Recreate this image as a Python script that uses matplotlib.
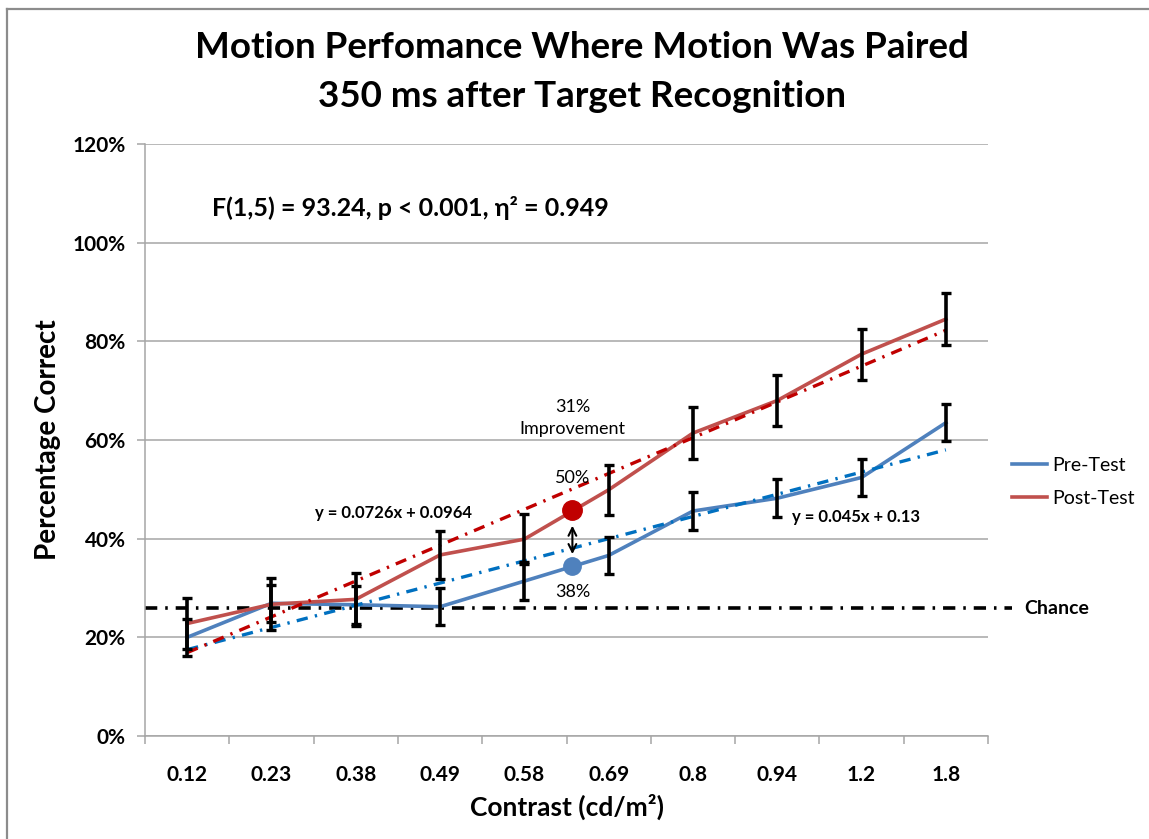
import matplotlib
matplotlib.use("Agg")
import matplotlib.pyplot as plt
from matplotlib.lines import Line2D
import numpy as np

plt.rcParams['font.family'] = ['Lato', 'DejaVu Sans']

# --- data ---
contrast = ["0.12", "0.23", "0.38", "0.49", "0.58", "0.69", "0.8", "0.94", "1.2", "1.8"]
pre_test = [0.200, 0.269, 0.266, 0.262, 0.314, 0.366, 0.456, 0.482, 0.524, 0.635]
pre_err = [0.038, 0.038, 0.038, 0.038, 0.038, 0.038, 0.038, 0.038, 0.037, 0.038]
post_test = [0.228, 0.267, 0.277, 0.367, 0.399, 0.499, 0.614, 0.680, 0.774, 0.845]
post_err = [0.052, 0.053, 0.054, 0.049, 0.051, 0.051, 0.053, 0.052, 0.052, 0.052]

# linear trendlines (equations printed on the chart)
pre_slope, pre_icpt = 0.045, 0.13
post_slope, post_icpt = 0.0726, 0.0964

chance = 0.259
highlight_x = 5.57          # position between 0.58 and 0.69
highlight_pre = 0.345
highlight_post = 0.458

x = np.arange(1, len(contrast) + 1)
dashdot = (0, (3.4, 2.2, 0.7, 2.2))

fig = plt.figure(figsize=(11.49, 8.39), dpi=100)
ax = fig.add_axes([145 / 1149, 1 - 736 / 839, 843 / 1149, 592 / 839])

# gridlines and axes
ax.set_ylim(0, 1.2)
ax.set_xlim(0.5, len(contrast) + 0.5)
ax.set_yticks(np.arange(0, 1.21, 0.2))
ax.set_yticklabels([f"{int(round(v * 100))}%" for v in np.arange(0, 1.21, 0.2)])
ax.yaxis.grid(True, color="#A6A6A6", linewidth=1.1)
ax.set_axisbelow(True)
for s in ["top", "right"]:
    ax.spines[s].set_visible(False)
for s in ["left", "bottom"]:
    ax.spines[s].set_color("#A6A6A6")
    ax.spines[s].set_linewidth(1.1)

ax.set_xticks(x)
ax.set_xticklabels(contrast)
ax.set_xticks(np.arange(0.5, len(contrast) + 1), minor=True)
ax.tick_params(axis="x", which="major", length=0, pad=21, labelsize=15)
ax.tick_params(axis="x", which="minor", length=6, color="#A6A6A6", width=1.1)
ax.tick_params(axis="y", length=6, color="#A6A6A6", width=1.1, pad=8, labelsize=15)
for lbl in ax.get_xticklabels() + ax.get_yticklabels():
    lbl.set_fontweight("bold")

# chance line (runs past the plot area to its label)
ax.plot([0.5, 10.78], [chance, chance], color="black", lw=2.6,
        linestyle=dashdot, clip_on=False, zorder=2)
ax.text(10.93, chance, "Chance", fontsize=14, fontweight="bold",
        va="center", ha="left")

# series
ax.plot(x, pre_test, color="#4F81BD", lw=2.6, zorder=3)
ax.plot(x, post_test, color="#C0504D", lw=2.6, zorder=3)

# trendlines
tx = np.array([x[0], x[-1]])
ax.plot(tx, pre_slope * tx + pre_icpt, color="#0070C0", lw=2.4,
        linestyle=dashdot, zorder=3)
ax.plot(tx, post_slope * tx + post_icpt, color="#C00000", lw=2.4,
        linestyle=dashdot, zorder=3)

# error bars
ax.errorbar(x, pre_test, yerr=pre_err, fmt="none", ecolor="black",
            elinewidth=2.6, capsize=3.8, capthick=2.4, zorder=4)
ax.errorbar(x, post_test, yerr=post_err, fmt="none", ecolor="black",
            elinewidth=2.6, capsize=3.8, capthick=2.4, zorder=4)

# highlighted points and arrow
ax.plot(highlight_x, highlight_post, "o", color="#C00000", ms=14, zorder=5)
ax.plot(highlight_x, highlight_pre, "o", color="#4F81BD", ms=12.5, zorder=5)
ax.annotate("", xy=(highlight_x, 0.363), xytext=(highlight_x, 0.432),
            arrowprops=dict(arrowstyle="<->", color="black", lw=1.5,
                            mutation_scale=14), zorder=5)

ax.text(highlight_x, 0.645, "31%\nImprovement", ha="center", va="center",
        fontsize=13, linespacing=1.45)
ax.text(highlight_x, 0.523, "50%", ha="center", va="center", fontsize=13)
ax.text(highlight_x, 0.292, "38%", ha="center", va="center", fontsize=13)

ax.text(3.45, 0.452, f"y = {post_slope}x + {post_icpt}", ha="center",
        va="center", fontsize=12, fontweight="bold")
ax.text(8.93, 0.444, f"y = {pre_slope}x + {pre_icpt}", ha="center",
        va="center", fontsize=12, fontweight="bold")

ax.text(0.08, 0.892, "F(1,5) = 93.24, p < 0.001, \u03b7\u00b2 = 0.949",
        transform=ax.transAxes, ha="left", va="center", fontsize=18,
        fontweight="bold")

# labels and title
ax.set_xlabel("Contrast (cd/m\u00b2)", fontsize=19, fontweight="bold", labelpad=6)
ax.set_ylabel("Percentage Correct", fontsize=20, fontweight="bold", labelpad=8)
fig.text(582 / 1149, 1 - 72 / 839,
         "Motion Perfomance Where Motion Was Paired\n350 ms after Target Recognition",
         ha="center", va="center", fontsize=26.5, fontweight="bold", linespacing=1.6)

# legend outside on the right
handles = [Line2D([], [], color="#4F81BD", lw=2.6),
           Line2D([], [], color="#C0504D", lw=2.6)]
fig.legend(handles, ["Pre-Test", "Post-Test"], loc="center left",
           bbox_to_anchor=(1012 / 1149, 1 - 482 / 839), frameon=False,
           borderpad=0, borderaxespad=0, fontsize=14, handlelength=1.8,
           handletextpad=0.25, labelspacing=0.85)

# outer border of the chart area (left and top edges only)
fig.add_artist(Line2D([7 / 1149, 7 / 1149], [0, 1 - 9 / 839], color="#8C8C8C",
                      lw=1.6, transform=fig.transFigure))
fig.add_artist(Line2D([7 / 1149, 1], [1 - 9 / 839, 1 - 9 / 839], color="#8C8C8C",
                      lw=1.6, transform=fig.transFigure))

fig.savefig("out.png", dpi=100)
